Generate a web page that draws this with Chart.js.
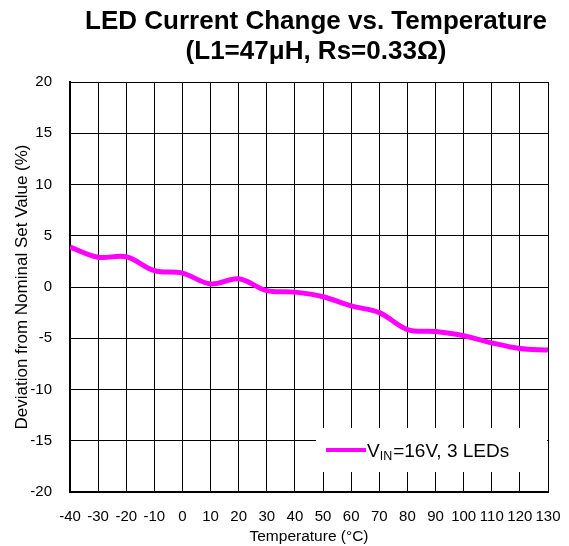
<!DOCTYPE html>
<html>
<head>
<meta charset="utf-8">
<script src="https://cdn.jsdelivr.net/npm/chart.js@4"></script>
<style>
  html, body { margin: 0; padding: 0; background: #fff; }
  #wrap { width: 569px; height: 546px; }
</style>
</head>
<body>
<div id="wrap"><canvas id="chartLed" width="569" height="546"></canvas></div>
<script>
/* === LED current change vs. temperature === */

const temperatures = [-40, -30, -20, -10, 0, 10, 20, 30, 40, 50, 60, 70, 80, 90, 100, 110, 120, 130];
const deviation16V = [3.9, 2.9, 2.95, 1.6, 1.35, 0.3, 0.8, -0.35, -0.5, -0.95, -1.85, -2.5, -4.15, -4.35, -4.75, -5.45, -6.0, -6.15];
const titleLines = ['LED Current Change vs. Temperature', '(L1=47μH, Rs=0.33Ω)'];
const xTitle = 'Temperature (°C)';
const yTitle = 'Deviation from Nominal Set Value (%)';
const legendMain = 'V';
const legendSub = 'IN';
const legendRest = '=16V, 3 LEDs';

const FONT = "'Liberation Sans', Arial, sans-serif";
const MAGENTA = '#FF00FF';

// Decale le titre un peu vers la droite (comme la reference)
const titleShift = {
  id: 'titleShift',
  afterLayout(chart) {
    if (chart.titleBlock) chart.titleBlock.left += 14;
  }
};

// Legende dessinee a la main (indice "IN")
const legendBox = {
  id: 'legendBox',
  afterDraw(chart) {
    const { ctx, chartArea } = chart;
    const right = chartArea.right - 1;
    const left = right - 231;
    const bottom = chartArea.bottom - 20;
    const top = bottom - 44;
    const midY = (top + bottom) / 2;

    ctx.save();
    ctx.fillStyle = '#fff';
    ctx.fillRect(left, top, right - left, bottom - top);

    ctx.strokeStyle = MAGENTA;
    ctx.lineWidth = 4;
    ctx.beginPath();
    ctx.moveTo(left + 10, midY);
    ctx.lineTo(left + 50, midY);
    ctx.stroke();

    ctx.fillStyle = '#000';
    ctx.textBaseline = 'alphabetic';
    let x = left + 51;
    const base = midY + 7;
    ctx.font = '19px ' + FONT;
    ctx.fillText(legendMain, x, base);
    x += ctx.measureText(legendMain).width;
    ctx.font = '12.5px ' + FONT;
    ctx.fillText(legendSub, x, base + 3);
    x += ctx.measureText(legendSub).width + 1;
    ctx.font = '19px ' + FONT;
    ctx.fillText(legendRest, x, base);
    ctx.restore();
  }
};

function renderChart() {
  const ctx = document.getElementById('chartLed');
  const points = temperatures.map((t, i) => ({ x: t, y: deviation16V[i] }));

  new Chart(ctx, {
    type: 'line',
    data: {
      datasets: [{
        label: legendMain + legendSub + legendRest,
        data: points,
        borderColor: MAGENTA,
        backgroundColor: MAGENTA,
        borderWidth: 5,
        pointRadius: 0,
        tension: 0.35,
        fill: false
      }]
    },
    options: {
      responsive: false,
      animation: false,
      layout: { padding: { top: 7, right: 21, bottom: 0, left: 0 } },
      plugins: {
        legend: { display: false },
        tooltip: { enabled: false },
        title: {
          display: true,
          text: titleLines,
          fullSize: false,
          color: '#000',
          font: { family: FONT, size: 26, weight: 'bold', lineHeight: 30 / 26 },
          padding: { top: 0, bottom: 15 }
        }
      },
      scales: {
        x: {
          type: 'linear',
          min: -40,
          max: 130,
          afterFit: s => { s.height = 54; s.paddingLeft = 0; s.paddingRight = 0; },
          afterBuildTicks: s => { s.ticks = temperatures.map(v => ({ value: v })); },
          grid: { color: '#000', lineWidth: 1, drawTicks: false },
          border: { color: '#000', width: 2 },
          ticks: { color: '#000', padding: 16, maxRotation: 0, autoSkip: false, font: { family: FONT, size: 15 } },
          title: { display: true, text: xTitle, color: '#000', padding: { top: 0, bottom: 0 }, font: { family: FONT, size: 15.5 } }
        },
        y: {
          min: -20,
          max: 20,
          afterFit: s => { s.width = 70; },
          grid: { color: '#000', lineWidth: 1, drawTicks: false },
          border: { color: '#000', width: 2 },
          ticks: { color: '#000', stepSize: 5, padding: 18, font: { family: FONT, size: 15 } },
          title: { display: true, text: yTitle, color: '#000', padding: { top: 12, bottom: 0 }, font: { family: FONT, size: 17 } }
        }
      }
    },
    plugins: [titleShift, legendBox]
  });
}

renderChart();
</script>
</body>
</html>
